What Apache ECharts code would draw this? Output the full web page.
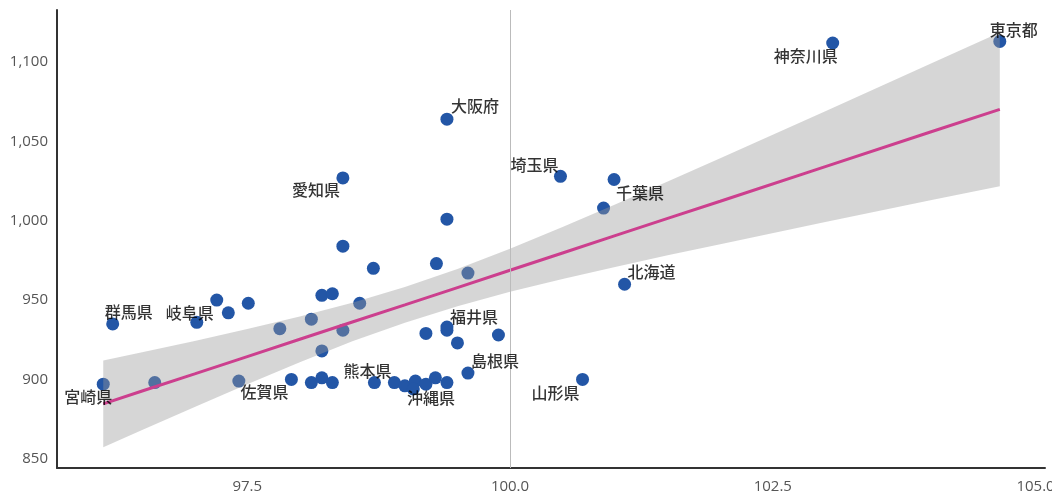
<!DOCTYPE html>
<html>
<head>
<meta charset="utf-8">
<script src="https://cdn.jsdelivr.net/npm/echarts@6/dist/echarts.min.js"></script>
<style>
html,body{margin:0;padding:0;background:#fff;}
#chart{width:1052px;height:496px;}
</style>
</head>
<body>
<div id="chart"></div>
<script>
// ---- data ----
const xValues = [96.13, 96.22, 96.62, 97.02, 97.21, 97.32, 97.51, 97.42, 97.81, 97.92,
  98.11, 98.11, 98.21, 98.21, 98.31, 98.31, 98.21, 98.41, 98.57, 98.41,
  98.41, 98.70, 98.71, 98.90, 99.00, 99.10, 99.08, 99.20, 99.29, 99.40,
  99.40, 99.30, 99.60, 99.20, 99.40, 99.40, 99.50, 99.89, 99.60, 99.40,
  100.48, 100.99, 100.89, 101.09, 100.69, 103.07, 104.66];
const yValues = [897, 935, 898, 936, 950, 942, 948, 899, 932, 900,
  938, 898, 901, 953, 954, 898, 918, 931, 948, 1027,
  984, 970, 898, 898, 896, 899, 894, 897, 901, 898,
  1001, 973, 967, 929, 933, 931, 923, 928, 904, 1064,
  1028, 1026, 1008, 960, 900, 1112, 1113];
const pointNames = ['宮崎県', '群馬県', '', '', '岐阜県', '', '', '', '', '佐賀県',
  '', '', '', '', '', '', '', '', '', '愛知県',
  '', '', '熊本県', '', '沖縄県', '', '', '', '', '',
  '', '', '', '', '', '福井県', '', '', '島根県', '大阪府',
  '埼玉県', '千葉県', '', '北海道', '山形県', '神奈川県', '東京都'];

// regression line and confidence band
const fitX = [96.13, 96.5, 97, 97.5, 98, 98.5, 99, 99.5, 100, 100.5, 101, 101.5, 102, 103, 104, 104.66];
const fitY = [884.6, 892.7, 903.5, 914.4, 925.3, 936.2, 947.0, 957.9, 968.8, 979.7, 990.6, 1001.5, 1012.3, 1034.1, 1055.9, 1070.2];
const bandLow = [857.3, 868.2, 882.7, 897.0, 910.9, 924.0, 935.8, 946.2, 955.2, 963.3, 970.9, 978.2, 985.2, 999.2, 1012.9, 1021.8];
const bandHigh = [911.9, 917.2, 924.3, 931.8, 939.7, 948.4, 958.2, 969.6, 982.4, 996.1, 1010.3, 1024.8, 1039.4, 1069.0, 1098.9, 1118.6];

// axis tick labels
const xTicks = [97.5, 100, 102.5, 105];
const yTicks = [850, 900, 950, 1000, 1050, 1100];

const refX = 100;

// ---- label placement (style, not data) ----
const labelOffsets = {
  '宮崎県': [-15, 13], '群馬県': [16, -12], '岐阜県': [-27, 13], '佐賀県': [-27, 12],
  '愛知県': [-27, 12], '熊本県': [-7, -12], '沖縄県': [26, 12], '福井県': [27, -13],
  '島根県': [27, -12], '山形県': [-27, 13], '北海道': [27, -12], '千葉県': [26, 13],
  '埼玉県': [-26, -11], '大阪府': [28, -13], '神奈川県': [-27, 13], '東京都': [14, -12]
};

const pts = xValues.map((x, i) => [x, yValues[i]]);
const labelPts = [];
pointNames.forEach((n, i) => {
  if (n) {
    labelPts.push({
      value: [xValues[i], yValues[i]],
      name: n,
      label: { offset: labelOffsets[n] }
    });
  }
});

const chart = echarts.init(document.getElementById('chart'), null, { renderer: 'canvas' });

const option = {
  animation: false,
  backgroundColor: '#ffffff',
  grid: { left: 57, right: 7, top: 10, bottom: 28, containLabel: false, outerBoundsMode: 'none' },
  xAxis: {
    type: 'value',
    min: 95.69, max: 105.09,
    splitLine: { show: false },
    axisTick: { show: false },
    axisLine: { show: true, onZero: false, lineStyle: { color: '#333333', width: 2 } },
    axisLabel: {
      color: '#555555', fontSize: 15, fontFamily: 'Open Sans', margin: 11,
      customValues: xTicks,
      hideOverlap: false,
      formatter: v => Number(v).toFixed(1)
    }
  },
  yAxis: {
    type: 'value',
    min: 844.2, max: 1132.8,
    splitLine: { show: false },
    axisTick: { show: false },
    axisLine: { show: true, onZero: false, lineStyle: { color: '#333333', width: 2 } },
    axisLabel: {
      color: '#555555', fontSize: 15, fontFamily: 'Open Sans', margin: 9,
      customValues: yTicks,
      formatter: v => Math.round(v).toLocaleString('en-US')
    }
  },
  series: [
    {
      type: 'scatter',
      data: pts,
      symbolSize: 13,
      itemStyle: { color: '#2356a6', opacity: 1 },
      z: 2,
      silent: true,
      markLine: {
        silent: true,
        symbol: 'none',
        label: { show: false },
        lineStyle: { color: '#bbbbbb', width: 1, type: 'solid' },
        data: [{ xAxis: refX }]
      }
    },
    {
      type: 'custom',
      z: 3,
      silent: true,
      data: [[fitX[0], bandLow[0]]],
      renderItem: function (params, api) {
        const poly = [];
        for (let i = 0; i < fitX.length; i++) poly.push(api.coord([fitX[i], bandHigh[i]]));
        for (let i = fitX.length - 1; i >= 0; i--) poly.push(api.coord([fitX[i], bandLow[i]]));
        return {
          type: 'polygon',
          shape: { points: poly },
          style: { fill: 'rgba(153,153,153,0.4)', stroke: null }
        };
      }
    },
    {
      type: 'line',
      data: fitX.map((x, i) => [x, fitY[i]]),
      showSymbol: false,
      symbol: 'none',
      smooth: false,
      lineStyle: { color: '#cc3f8e', width: 3 },
      z: 4,
      silent: true
    },
    {
      type: 'scatter',
      data: labelPts,
      symbolSize: 1,
      itemStyle: { color: 'rgba(0,0,0,0)' },
      z: 10,
      silent: true,
      label: {
        show: true,
        position: 'inside',
        formatter: p => p.name,
        color: '#000000',
        fontSize: 16,
        fontWeight: 500,
        fontFamily: 'Noto Sans CJK JP',
        align: 'center',
        verticalAlign: 'middle'
      }
    }
  ]
};
chart.setOption(option);
</script>
</body>
</html>
